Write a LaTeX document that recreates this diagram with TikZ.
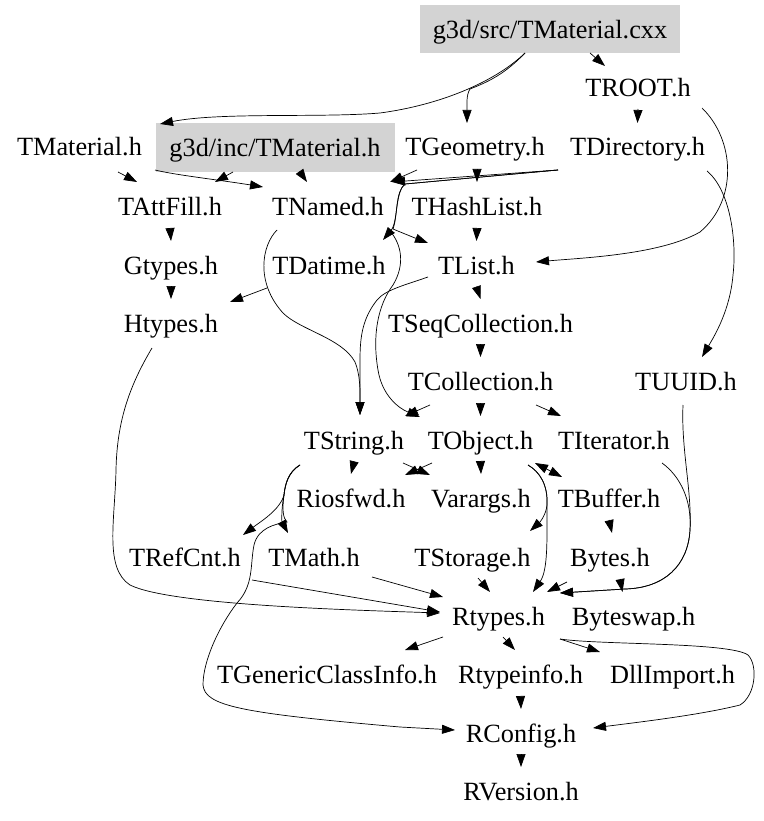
\documentclass[tikz,border=0pt]{standalone}
\usepackage{fontspec}
\setmainfont{Liberation Serif}
\usetikzlibrary{arrows.meta}
\definecolor{boxgray}{RGB}{211,211,211}
\begin{document}
\begin{tikzpicture}[x=1pt,y=-1pt,
  lbl/.style={inner xsep=8pt,inner ysep=0pt,text height=18.5pt,text depth=0pt,
    minimum height=49pt,anchor=base,font=\fontsize{26.3}{30}\selectfont},
  hl/.style={lbl,fill=boxgray},
  edge/.style={draw=black,line width=0.7pt,-{Triangle[length=13pt,width=9pt]}},
  dbl/.style={draw=black,line width=0.7pt,{Triangle[length=13pt,width=9pt]}-{Triangle[length=13pt,width=9pt]}}]
\useasboundingbox (0,0) rectangle (763,821);
\fill[white] (0,0) rectangle (763,821);
% nodes
\node[hl,minimum width=260pt,minimum height=48pt] (cxx) at (550,38.5) {g3d/src/TMaterial.cxx};
\node[lbl] (troot) at (638,97) {TROOT.h};
\node[lbl] (tmat) at (79.5,156) {TMaterial.h};
\node[hl,minimum width=239pt,minimum height=49pt] (ginc) at (275,156.5) {g3d/inc/TMaterial.h};
\node[lbl] (tgeom) at (475,156) {TGeometry.h};
\node[lbl] (tdir) at (637.5,156) {TDirectory.h};
\node[lbl] (tattfill) at (170,215) {TAttFill.h};
\node[lbl] (tnamed) at (328,215) {TNamed.h};
\node[lbl] (thash) at (477,215) {THashList.h};
\node[lbl] (gtypes) at (171,274) {Gtypes.h};
\node[lbl] (tdatime) at (329,274) {TDatime.h};
\node[lbl] (tlist) at (476.5,274) {TList.h};
\node[lbl] (htypes) at (171,332) {Htypes.h};
\node[lbl] (tseq) at (480.5,332) {TSeqCollection.h};
\node[lbl] (tcoll) at (480.5,390) {TCollection.h};
\node[lbl] (tuuid) at (686,390) {TUUID.h};
\node[lbl] (tstring) at (354,449) {TString.h};
\node[lbl] (tobject) at (480.5,449) {TObject.h};
\node[lbl] (titer) at (614,449) {TIterator.h};
\node[lbl] (riosfwd) at (351,507) {Riosfwd.h};
\node[lbl] (varargs) at (481,507) {Varargs.h};
\node[lbl] (tbuffer) at (609,507) {TBuffer.h};
\node[lbl] (trefcnt) at (185,566) {TRefCnt.h};
\node[lbl] (tmathh) at (314,566) {TMath.h};
\node[lbl] (tstorage) at (472.5,566) {TStorage.h};
\node[lbl] (bytes) at (610,566) {Bytes.h};
\node[lbl] (rtypes) at (498.5,625) {Rtypes.h};
\node[lbl] (byteswap) at (633.5,625) {Byteswap.h};
\node[lbl] (tgci) at (327,683) {TGenericClassInfo.h};
\node[lbl] (rtypeinfo) at (520.5,683) {Rtypeinfo.h};
\node[lbl] (dllimport) at (672.5,683) {DllImport.h};
\node[lbl] (rconfig) at (521,742) {RConfig.h};
\node[lbl] (rversion) at (521,800) {RVersion.h};
% edges
\draw[edge] ([shift={(40,14.5)}]cxx.base) -- ([shift={(-33,-31)}]troot.base);
\draw[edge] ([shift={(-25,14.5)}]cxx.base) .. controls (495,82) and (440,105) .. (380,113) .. controls (320,118) and (220,112) .. ([shift={(-115,-32.5)}]ginc.base);
\draw[edge] ([shift={(-25,14.5)}]cxx.base) .. controls (505,74) and (488,82) .. (470,89) .. controls (466,95) and (467,106) .. ([shift={(-8,-33)}]tgeom.base);
\draw[edge] ([shift={(0,12)}]troot.base) -- ([shift={(0,-33)}]tdir.base);
\draw[edge] ([shift={(64,11)}]troot.base) .. controls (735,140) and (738,200) .. (700,232) .. controls (660,255) and (580,258) .. ([shift={(59.5,-12)}]tlist.base);
\draw[edge] ([shift={(69.5,15)}]tdir.base) .. controls (730,190) and (737,240) .. (733,275) .. controls (730,310) and (715,335) .. ([shift={(16,-33)}]tuuid.base);
\draw[edge] ([shift={(-79.5,14)}]tdir.base) -- ([shift={(64,-33)}]tnamed.base);
\draw[edge] ([shift={(-58,14)}]tgeom.base) -- ([shift={(62,-33)}]tnamed.base);
\draw[edge] ([shift={(2,13)}]tgeom.base) -- ([shift={(0,-33)}]thash.base);
\draw[edge] ([shift={(-79.5,14)}]tdir.base) -- (405,184) .. controls (395,192) and (398,222) .. ([shift={(54,-34)}]tdatime.base);
\draw[edge] ([shift={(-79.5,14)}]tdir.base) -- (405,184) .. controls (395,192) and (398,215) .. (393,229) .. controls (405,234) and (415,238) .. ([shift={(-48.5,-31)}]tlist.base);
\draw[edge] ([shift={(62,16)}]tnamed.base) .. controls (402,245) and (405,265) .. (393,285) .. controls (378,305) and (372,335) .. (378,370) .. controls (382,395) and (398,408) .. ([shift={(-60.5,-32)}]tobject.base);
\draw[edge] ([shift={(-51,15)}]tnamed.base) .. controls (262,245) and (255,282) .. (283,313) .. controls (300,330) and (342,338) .. (355,362) .. controls (361,377) and (360,395) .. ([shift={(6,-34)}]tstring.base);
\draw[edge] ([shift={(-48.5,3)}]tlist.base) .. controls (405,285) and (385,290) .. (377,300) .. controls (363,318) and (360,335) .. (360,360) -- ([shift={(6,-34)}]tstring.base);
\draw[edge] ([shift={(-62,14)}]tdatime.base) -- ([shift={(59,-30)}]htypes.base);
\draw[edge] ([shift={(38.5,16)}]tmat.base) -- ([shift={(-33,-33)}]tattfill.base);
\draw[edge] ([shift={(-42,15.5)}]ginc.base) -- ([shift={(45,-33)}]tattfill.base);
\draw[edge] ([shift={(25,15.5)}]ginc.base) -- ([shift={(-21,-33)}]tnamed.base);
\draw[edge] ([shift={(75.5,14)}]tmat.base) .. controls (175,175) and (220,180) .. ([shift={(-65,-28)}]tnamed.base);
\draw[edge] ([shift={(0,13)}]tattfill.base) -- ([shift={(0,-33)}]gtypes.base);
\draw[edge] ([shift={(0,13)}]gtypes.base) -- ([shift={(0,-33)}]htypes.base);
\draw[edge] ([shift={(-19,16)}]htypes.base) .. controls (130,385) and (117,420) .. (116,470) .. controls (115,520) and (104,568) .. (130,585) .. controls (170,605) and (350,610) .. ([shift={(-58.5,-12)}]rtypes.base);
\draw[edge] ([shift={(67,14)}]trefcnt.base) -- ([shift={(-58.5,-13)}]rtypes.base);
\draw[edge] ([shift={(58,11)}]tmathh.base) -- ([shift={(-55.5,-28)}]rtypes.base);
\draw[edge] ([shift={(-54,16)}]tstring.base) .. controls (288,472) and (285,485) .. (284,495) .. controls (280,510) and (260,522) .. ([shift={(58,-31)}]trefcnt.base);
\draw[edge] ([shift={(-54,16)}]tstring.base) .. controls (288,472) and (285,485) .. (284,495) .. controls (281,510) and (282,522) .. ([shift={(-26,-33)}]tmathh.base);
\draw[edge] ([shift={(-54,16)}]tstring.base) .. controls (288,472) and (285,485) .. (284,495) .. controls (282,510) and (283,518) .. (287,522) .. controls (275,524) and (258,528) .. (254,545) .. controls (250,565) and (254,585) .. (237,603) .. controls (220,625) and (203,660) .. (203,685) .. controls (205,706) and (240,713) .. (400,727) -- ([shift={(-66,-12)}]rconfig.base);
\draw[edge] ([shift={(-50.5,15)}]tcoll.base) -- ([shift={(51,-33)}]tstring.base);
\draw[edge] ([shift={(0,13)}]tcoll.base) -- ([shift={(0,-33)}]tobject.base);
\draw[edge] ([shift={(55.5,15)}]tcoll.base) -- ([shift={(-53,-33)}]titer.base);
\draw[edge] ([shift={(0,13)}]tseq.base) -- ([shift={(0,-33)}]tcoll.base);
\draw[edge] ([shift={(0,13)}]tlist.base) -- ([shift={(0,-33)}]tseq.base);
\draw[edge] ([shift={(0,13)}]thash.base) -- ([shift={(0,-33)}]tlist.base);
\draw[edge] ([shift={(0,13)}]tstring.base) -- ([shift={(0,-33)}]riosfwd.base);
\draw[edge] ([shift={(-48.5,14)}]tobject.base) -- ([shift={(54,-32)}]riosfwd.base);
\draw[edge] ([shift={(49,14)}]tstring.base) -- ([shift={(-51,-32)}]varargs.base);
\draw[edge] ([shift={(0,13)}]tobject.base) -- ([shift={(0,-33)}]varargs.base);
\draw[dbl] ([shift={(-47,-30)}]tbuffer.base) -- ([shift={(54.5,14)}]tobject.base);
\draw[edge] ([shift={(47.5,16)}]tobject.base) .. controls (540,472) and (548,485) .. (547,505) .. controls (546,515) and (540,522) .. ([shift={(57.5,-35)}]tstorage.base);
\draw[edge] ([shift={(47.5,16)}]tobject.base) .. controls (540,472) and (548,485) .. (547,505) .. controls (547,540) and (548,570) .. ([shift={(34.5,-33)}]rtypes.base);
\draw[edge] ([shift={(5.5,12)}]tstorage.base) -- ([shift={(-8.5,-33)}]rtypes.base);
\draw[edge] ([shift={(0,13)}]tbuffer.base) -- ([shift={(2,-33)}]bytes.base);
\draw[edge] ([shift={(-43,16)}]bytes.base) -- ([shift={(48.5,-33)}]rtypes.base);
\draw[edge] ([shift={(10,13)}]bytes.base) -- ([shift={(-11,-33)}]byteswap.base);
\draw[edge] ([shift={(48,14)}]titer.base) .. controls (680,476) and (692,500) .. (690,530) .. controls (688,565) and (665,588) .. (625,589) -- ([shift={(61.5,-32)}]rtypes.base);
\draw[edge] ([shift={(-3,15)}]tuuid.base) .. controls (681,450) and (692,490) .. (690,530) .. controls (688,565) and (665,588) .. (625,589) -- ([shift={(61.5,-32)}]rtypes.base);
\draw[edge] ([shift={(-55.5,12)}]rtypes.base) -- ([shift={(78,-33)}]tgci.base);
\draw[edge] ([shift={(4.5,12)}]rtypes.base) -- ([shift={(-5.5,-33)}]rtypeinfo.base);
\draw[edge] ([shift={(61.5,14)}]rtypes.base) -- ([shift={(-72.5,-31)}]dllimport.base);
\draw[edge] ([shift={(61.5,14)}]rtypes.base) .. controls (600,645) and (730,642) .. (748,655) .. controls (758,665) and (756,695) .. (740,705) .. controls (700,715) and (640,722) .. ([shift={(72,-14)}]rconfig.base);
\draw[edge] ([shift={(0,13)}]rtypeinfo.base) -- ([shift={(0,-33)}]rconfig.base);
\draw[edge] ([shift={(0,13)}]rconfig.base) -- ([shift={(0,-33)}]rversion.base);
\end{tikzpicture}
\end{document}
